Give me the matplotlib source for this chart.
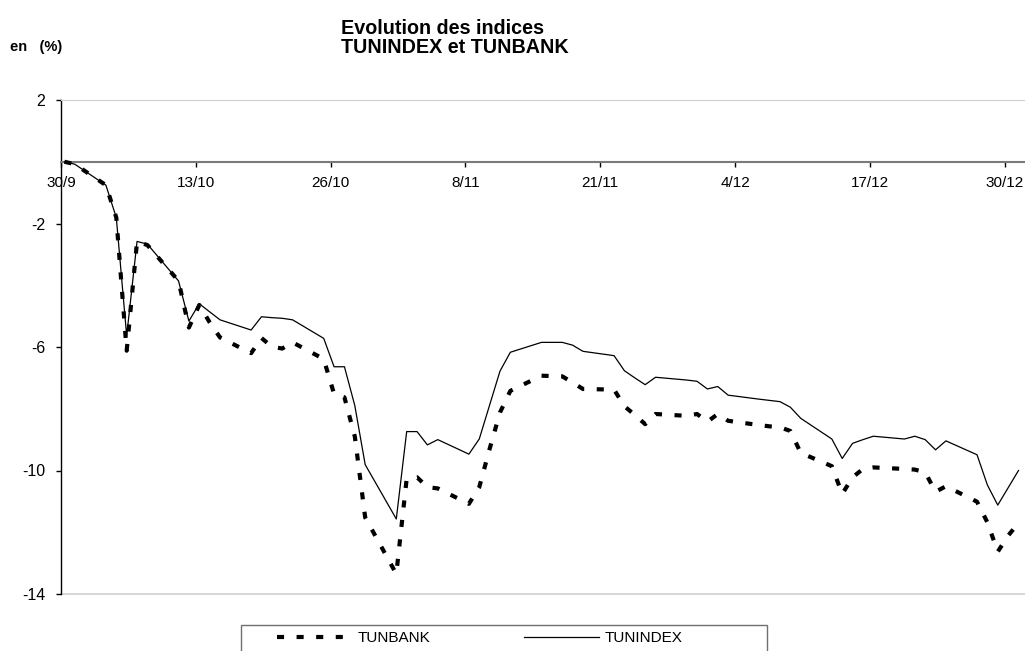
import matplotlib
matplotlib.use("Agg")
import matplotlib.pyplot as plt
from matplotlib.patches import Rectangle
from matplotlib.lines import Line2D
import pandas as pd

plt.rcParams['font.family'] = ['Liberation Sans', 'DejaVu Sans']

# ---- data (days after 30/9/2010, trading days) ----
base_date = "2010-09-30"
days = [0, 1, 4, 5, 6, 7, 8, 11, 12, 13, 14, 15, 18, 19, 20, 21, 22, 25, 26, 27,
        28, 29, 32, 33, 34, 35, 36, 39, 40, 41, 42, 43, 46, 48, 49, 50, 53, 54, 55,
        56, 57, 60, 61, 62, 63, 64, 67, 68, 69, 70, 71, 74, 75, 76, 77, 78, 81, 82,
        83, 84, 85, 88, 89, 90, 91, 92]
tunindex = [0.00, -0.08, -0.76, -1.81, -5.64, -2.58, -2.67, -3.86, -5.16, -4.60,
            -4.86, -5.12, -5.45, -5.02, -5.05, -5.07, -5.12, -5.72, -6.64, -6.64,
            -7.90, -9.81, -11.57, -8.74, -8.74, -9.17, -9.00, -9.47, -8.98, -7.88,
            -6.78, -6.17, -5.85, -5.85, -5.94, -6.14, -6.28, -6.77, -7.00, -7.22,
            -6.98, -7.07, -7.11, -7.36, -7.28, -7.56, -7.69, -7.73, -7.77, -7.95,
            -8.31, -8.98, -9.61, -9.12, -9.00, -8.89, -8.98, -8.89, -9.00, -9.33,
            -9.04, -9.49, -10.47, -11.12, -10.56, -10.00]
tunbank = [0.00, -0.08, -0.76, -1.81, -6.12, -2.58, -2.70, -3.86, -5.37, -4.64,
           -5.20, -5.69, -6.20, -5.71, -5.99, -6.05, -5.85, -6.39, -7.52, -7.63,
           -8.90, -11.52, -13.35, -10.27, -10.22, -10.54, -10.58, -11.08, -10.54, -9.30,
           -8.12, -7.42, -6.93, -6.95, -7.15, -7.36, -7.38, -7.92, -8.20, -8.50,
           -8.17, -8.23, -8.17, -8.42, -8.17, -8.39, -8.53, -8.57, -8.60, -8.72,
           -9.43, -9.86, -10.76, -10.22, -9.95, -9.90, -9.95, -9.97, -10.06, -10.69,
           -10.51, -11.01, -11.68, -12.63, -12.11, -11.70]
tick_labels = ["30/9", "13/10", "26/10", "8/11", "21/11", "4/12", "17/12", "30/12"]
y_ticks = [2, -2, -6, -10, -14]

dates = pd.Timestamp(base_date) + pd.to_timedelta(days, unit="D")
t0 = pd.Timestamp(base_date) - pd.Timedelta(hours=8)   # axis origin (category edge)
tick_pos = [t0 + pd.Timedelta(days=13 * i) for i in range(len(tick_labels))]

fig = plt.figure(figsize=(10.25, 6.51), dpi=100)
ax = fig.add_axes([61 / 1025, 1 - 594 / 651, (1025 - 61) / 1025, (594 - 100) / 651])

dash = (0, (1.7, 3.0))
ax.plot(dates, tunindex, color="black", lw=0.9, label="TUNINDEX", zorder=3)
ax.plot(dates, tunbank, color="black", lw=3.0, linestyle=dash,
        label="TUNBANK", zorder=4)

ax.set_ylim(-14, 2)
ax.set_xlim(t0, t0 + pd.Timedelta(days=92.96))
ax.set_yticks(y_ticks)
ax.set_yticklabels([str(v) for v in y_ticks])
ax.set_xticks(tick_pos)
ax.set_xticklabels(tick_labels)

ax.spines["right"].set_visible(False)
ax.spines["top"].set_color("#cfcfcf")
ax.spines["left"].set_color("black")
ax.spines["left"].set_linewidth(1.0)
ax.spines["bottom"].set_position(("data", 0))
ax.spines["bottom"].set_color("#7a7a7a")
ax.spines["bottom"].set_linewidth(1.5)
ax.axhline(-14, color="#cfcfcf", lw=1.2, clip_on=False, zorder=1)

ax.tick_params(axis="x", direction="out", length=3.5, width=1, colors="black",
               pad=7, labelsize=11)
ax.tick_params(axis="y", direction="out", length=3.5, width=1, colors="black",
               pad=8, labelsize=11.5)

fig.text(341 / 1025, 1 - 19 / 651, "Evolution des indices\nTUNINDEX et TUNBANK",
         ha="left", va="top", fontsize=14.2, fontweight="bold", linespacing=1.0)
fig.text(10 / 1025, 1 - 47 / 651, "en   (%)", ha="left", va="center",
         fontsize=10.5, fontweight="bold")

# legend box
fig.patches.append(Rectangle((241 / 1025, -0.05), (767 - 241) / 1025,
                             0.05 + (651 - 625) / 651, transform=fig.transFigure,
                             fill=False, edgecolor="#707070", lw=1.0))
h_bank = Line2D([], [], color="black", lw=3.0, linestyle=dash)
h_idx = Line2D([], [], color="black", lw=0.9)
fig.legend([h_bank, h_idx], ["TUNBANK", "TUNINDEX"], ncol=2, frameon=False,
           loc="upper left", bbox_to_anchor=(277 / 1025, 1 - 631 / 651),
           borderpad=0, borderaxespad=0, handlelength=4.9, handletextpad=0.4,
           columnspacing=6.1, fontsize=11)

fig.savefig("out.png", dpi=100)
